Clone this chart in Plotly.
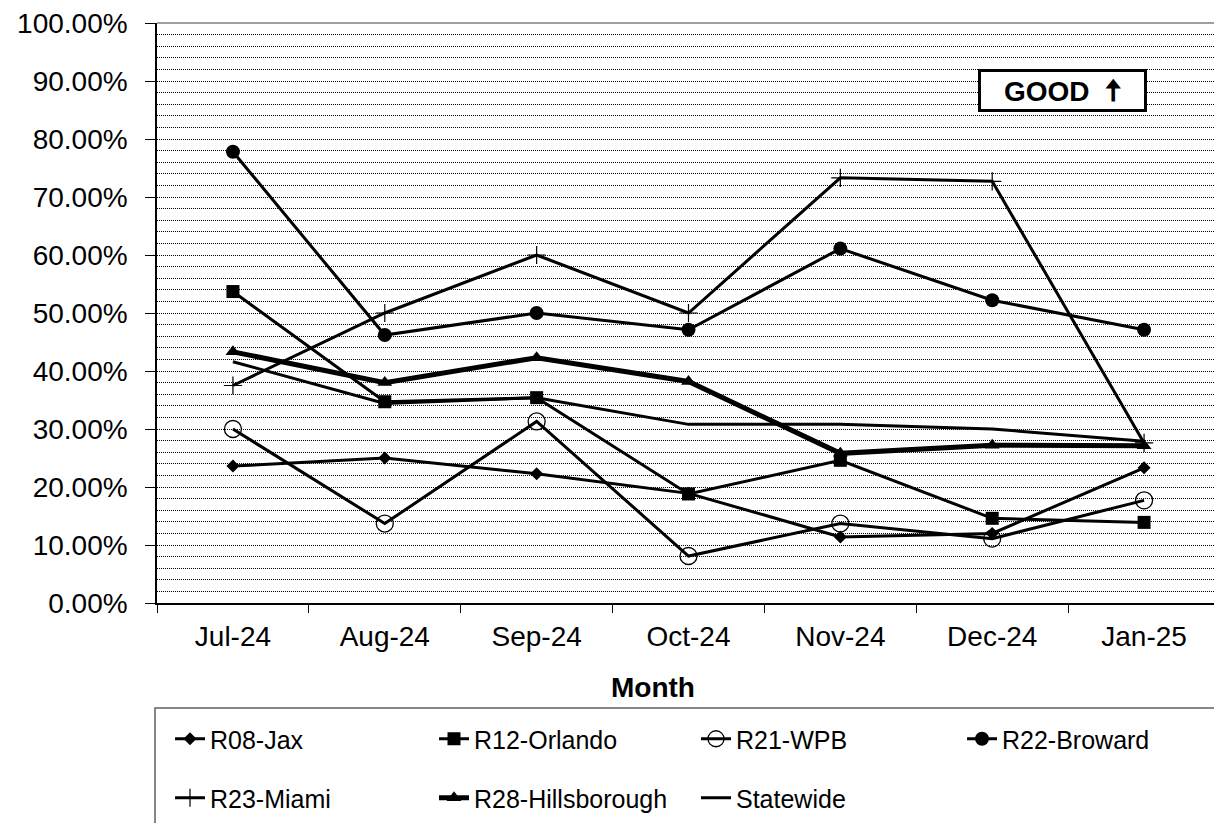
import plotly.graph_objects as go

# Monthly rate by region (percent)
months = ["Jul-24", "Aug-24", "Sep-24", "Oct-24", "Nov-24", "Dec-24", "Jan-25"]
r08_jax = [23.6, 25.0, 22.3, 18.9, 11.4, 12.0, 23.3]
r12_orlando = [53.7, 34.7, 35.4, 18.8, 24.6, 14.6, 13.9]
r21_wpb = [30.0, 13.7, 31.3, 8.1, 13.7, 11.1, 17.7]
r22_broward = [77.8, 46.2, 50.0, 47.1, 61.1, 52.2, 47.1]
r23_miami = [37.5, 50.0, 60.0, 50.0, 73.3, 72.7, 27.6]
r28_hillsborough = [43.3, 38.0, 42.3, 38.2, 25.8, 27.2, 27.1]
statewide = [41.6, 34.4, 35.4, 30.8, 30.8, 30.0, 27.9]

FONT = "Arial, Liberation Sans, sans-serif"

PLOT_L, PLOT_T, PLOT_B = 157, 23, 603
W, H = 1214, 823
plot_w = W - PLOT_L
plot_h = PLOT_B - PLOT_T


def px_x(px):
    return (px - PLOT_L) / plot_w


def px_y(py):
    return (PLOT_B - py) / plot_h


# name, values, marker, line width, legend slot (left px, row centre px)
series = [
    ("R08-Jax", r08_jax, dict(symbol="diamond", size=10, color="black"), 3, (170, 739)),
    ("R12-Orlando", r12_orlando, dict(symbol="square", size=13, color="black"), 3, (434, 739)),
    ("R21-WPB", r21_wpb, dict(symbol="circle-open", size=17, color="black",
                              line=dict(width=1.3, color="black")), 3, (696, 739)),
    ("R22-Broward", r22_broward, dict(symbol="circle", size=14, color="black"), 3, (962, 739)),
    ("R23-Miami", r23_miami, dict(symbol="cross-thin", size=13, color="black",
                                  line=dict(width=1.2, color="black")), 3, (170, 798)),
    ("R28-Hillsborough", r28_hillsborough, dict(symbol="triangle-up", size=13, color="black"), 5, (434, 798)),
    ("Statewide", statewide, None, 3, (696, 798)),
]

fig = go.Figure()
legends = {}
for i, (name, vals, marker, lw, (lx, ly)) in enumerate(series):
    key = "legend" if i == 0 else f"legend{i + 1}"
    kw = dict(mode="lines+markers", marker=marker) if marker else dict(mode="lines")
    fig.add_trace(go.Scatter(
        x=months, y=[v / 100 for v in vals], name=name,
        line=dict(color="black", width=lw), legend=key, **kw,
    ))
    legends[key] = dict(
        x=px_x(lx), y=px_y(ly), xanchor="left", yanchor="middle",
        orientation="h", font=dict(family=FONT, size=25, color="black"),
        bgcolor="rgba(0,0,0,0)", itemclick=False, itemdoubleclick=False,
    )

fig.update_layout(
    width=W, height=H,
    margin=dict(l=PLOT_L, r=0, t=PLOT_T, b=H - PLOT_B, autoexpand=False),
    paper_bgcolor="white", plot_bgcolor="white",
    font=dict(family=FONT, color="black"),
    showlegend=True,
    **legends,
    xaxis=dict(
        type="category", range=[-0.5, 6.5 - 6 / 152],
        showline=True, linecolor="black", linewidth=1.5,
        ticks="outside", tickson="boundaries", ticklen=8, tickcolor="black",
        tickfont=dict(family=FONT, size=28, color="black"),
        ticklabelstandoff=8, showgrid=False, zeroline=False,
    ),
    yaxis=dict(
        range=[0, 1.0], tickformat=".2%", dtick=0.1, tick0=0,
        showline=True, linecolor="black", linewidth=1.5,
        ticks="outside", ticklen=10, tickcolor="black",
        tickfont=dict(family=FONT, size=28, color="black"),
        ticklabelstandoff=12,
        showgrid=True, gridcolor="black", griddash="1px,1px", gridwidth=1,
        minor=dict(dtick=0.02, showgrid=True, gridcolor="black",
                   griddash="1px,1px", gridwidth=1, ticks=""),
        zeroline=False,
    ),
)

# frame line along the top of the plot area
fig.add_shape(type="line", xref="paper", yref="paper", x0=0, x1=1, y0=1, y1=1,
              line=dict(color="#808080", width=1.5))

# box around the legend
fig.add_shape(type="rect", xref="paper", yref="paper",
              x0=px_x(155), x1=px_x(1240), y0=px_y(708), y1=px_y(840),
              line=dict(color="#606060", width=1.5), fillcolor="rgba(0,0,0,0)")

# axis title
fig.add_annotation(text="<b>Month</b>", xref="paper", yref="paper",
                   x=px_x(653), y=px_y(687), showarrow=False,
                   font=dict(family=FONT, size=28, color="black"),
                   xanchor="center", yanchor="middle")

# direction marker
fig.add_annotation(
    text="<b>GOOD  <span style='font-family:DejaVu Sans;font-size:30px'>🠅</span></b>",
    xref="paper", yref="paper",
    x=px_x(1062.5), y=px_y(90.5), showarrow=False,
    font=dict(family=FONT, size=28, color="black"),
    xanchor="center", yanchor="middle",
    bordercolor="black", borderwidth=3, borderpad=0,
    bgcolor="white", width=163, height=37, align="center")

fig.write_html("out.html")
